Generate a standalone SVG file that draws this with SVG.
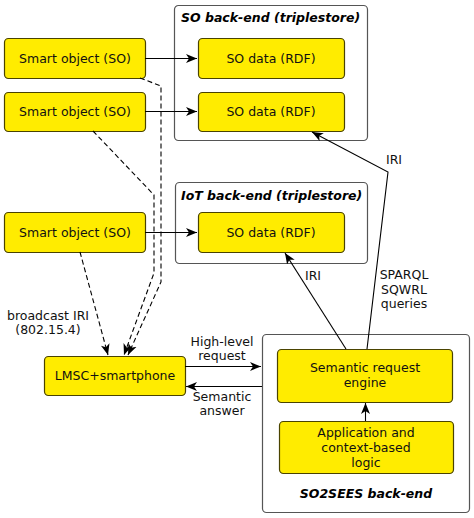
<svg xmlns="http://www.w3.org/2000/svg" width="474" height="518" viewBox="0 0 474 518">
<defs>
<style>
.box{fill:#ffec00;stroke:#4a4300;stroke-width:1.2}
.cont{fill:#fff;stroke:#555;stroke-width:1.2}
.t{font-family:"DejaVu Sans",sans-serif;font-size:12.5px;fill:#111;text-anchor:middle}
.h{font-family:"DejaVu Sans",sans-serif;font-size:12.5px;font-weight:bold;font-style:italic;fill:#000}
.c{fill:none;stroke:#000;stroke-width:1.1}
.d{stroke-dasharray:5,3}
</style>
<marker id="a" markerWidth="12" markerHeight="10" viewBox="-11 -5 12 10" refX="0" refY="0" orient="auto" markerUnits="userSpaceOnUse">
<path d="M0,0 L-11,-4.5 L-8,0 L-11,4.5 Z" fill="#000"/>
</marker>
</defs>
<g id="so-backend">
<rect class="cont" x="174.5" y="5.5" width="193" height="135" rx="4"/>
<text class="h" x="181" y="22">SO back-end (triplestore)</text>
</g>
<g id="iot-backend">
<rect class="cont" x="175.5" y="182.5" width="192" height="81" rx="4"/>
<text class="h" x="181" y="200">IoT back-end (triplestore)</text>
</g>
<g id="so2sees-backend">
<rect class="cont" x="262.5" y="334.5" width="207" height="178" rx="4"/>
<text class="h" x="366" y="498" text-anchor="middle">SO2SEES back-end</text>
</g>
<g id="so1"><rect class="box" x="4.5" y="38.5" width="141" height="40" rx="4"/><text class="t" x="75" y="63">Smart object (SO)</text></g>
<g id="so2"><rect class="box" x="4.5" y="92.5" width="141" height="39" rx="4"/><text class="t" x="75" y="116">Smart object (SO)</text></g>
<g id="so3"><rect class="box" x="4.5" y="212.5" width="141" height="40" rx="4"/><text class="t" x="75" y="237">Smart object (SO)</text></g>
<g id="sodata1"><rect class="box" x="198.5" y="38.5" width="146" height="40" rx="4"/><text class="t" x="271" y="63">SO data (RDF)</text></g>
<g id="sodata2"><rect class="box" x="198.5" y="92.5" width="146" height="39" rx="4"/><text class="t" x="271" y="116">SO data (RDF)</text></g>
<g id="sodata3"><rect class="box" x="198.5" y="212.5" width="146" height="40" rx="4"/><text class="t" x="271" y="237">SO data (RDF)</text></g>
<g id="lmsc"><rect class="box" x="44.5" y="356.5" width="141" height="39" rx="4"/><text class="t" x="115" y="380">LMSC+smartphone</text></g>
<g id="engine"><rect class="box" x="277.5" y="349.5" width="175" height="53" rx="4"/><text class="t" x="365" y="372">Semantic request</text><text class="t" x="365" y="387">engine</text></g>
<g id="app"><rect class="box" x="279.5" y="421.5" width="174" height="52" rx="4"/><text class="t" x="366" y="437">Application and</text><text class="t" x="366" y="452">context-based</text><text class="t" x="366" y="467">logic</text></g>
<g id="connectors">
<path class="c" d="M145,58.5 H197" marker-end="url(#a)"/>
<path class="c" d="M145,111.5 H197" marker-end="url(#a)"/>
<path class="c" d="M145,232.5 H197" marker-end="url(#a)"/>
<path class="c d" d="M140,78 L161,86 V282 L128,355" marker-end="url(#a)"/>
<path class="c d" d="M93,131 L154,195 V273 L124,355" marker-end="url(#a)"/>
<path class="c d" d="M80,252 L108,355" marker-end="url(#a)"/>
<path class="c" d="M185,366.5 H261" marker-end="url(#a)"/>
<path class="c" d="M262,386.5 H186" marker-end="url(#a)"/>
<path class="c" d="M346,349 L285,253" marker-end="url(#a)"/>
<path class="c" d="M367,349 L388,172 L312,132" marker-end="url(#a)"/>
<path class="c" d="M365.5,421 V403" marker-end="url(#a)"/>
</g>
<g id="labels">
<text class="t" x="48" y="320">broadcast IRI</text>
<text class="t" x="48" y="334">(802.15.4)</text>
<text class="t" x="222" y="346">High-level</text>
<text class="t" x="222" y="360">request</text>
<text class="t" x="222" y="401">Semantic</text>
<text class="t" x="222" y="415">answer</text>
<text class="t" x="313" y="280">IRI</text>
<text class="t" x="394" y="164">IRI</text>
<text class="t" x="404" y="279">SPARQL</text>
<text class="t" x="404" y="294">SQWRL</text>
<text class="t" x="404" y="308">queries</text>
</g>
</svg>
